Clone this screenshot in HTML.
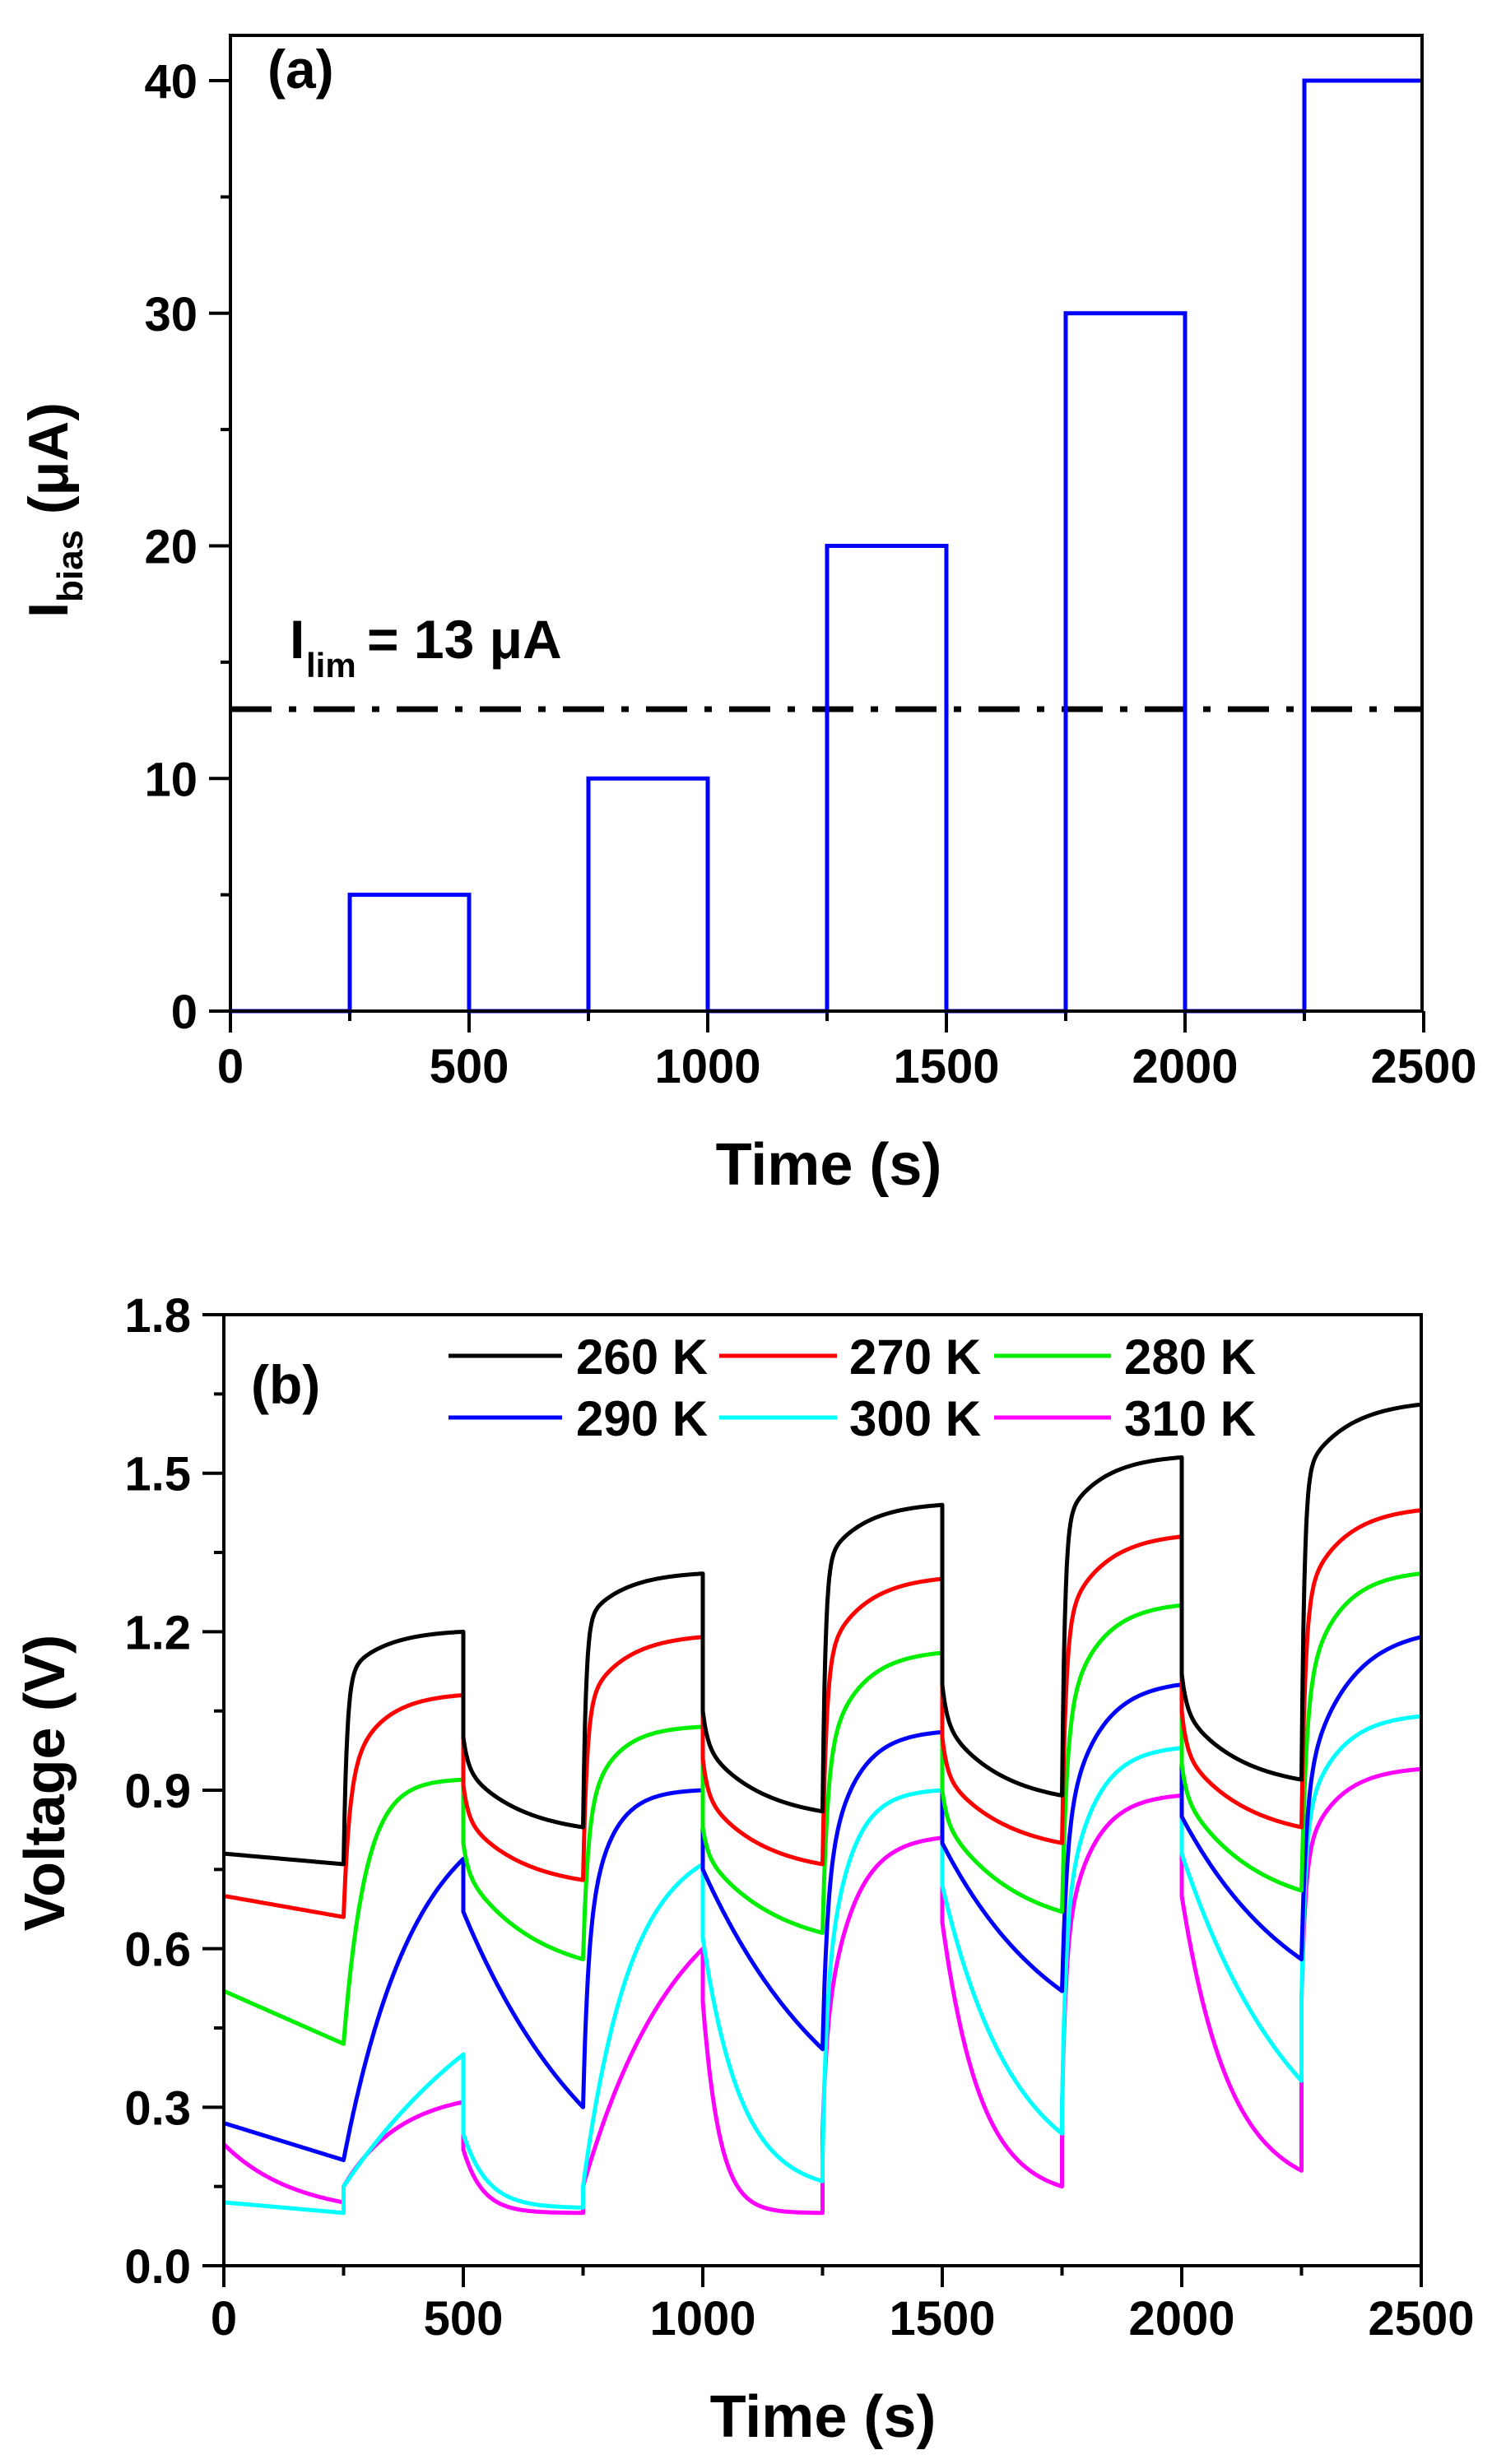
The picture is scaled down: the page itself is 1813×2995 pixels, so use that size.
<!DOCTYPE html>
<html><head><meta charset="utf-8"><style>
html,body{margin:0;padding:0;background:#fff}
svg{display:block}
text{font-family:"Liberation Sans",Arial,sans-serif;font-weight:bold;fill:#000}
</style></head><body>
<svg id="s" width="1813" height="2995" viewBox="0 0 1813 2995" xmlns="http://www.w3.org/2000/svg">
<rect width="1813" height="2995" fill="#fff"/>
<g id="pa"></g>
<line x1="280" y1="862" x2="1728" y2="862" stroke="#000" stroke-width="7" stroke-dasharray="50 21 9 21"/>
<polyline fill="none" stroke="#0000ff" stroke-width="5" points="280,1229 425,1229 425,1087.6 570,1087.6 570,1229 715,1229 715,946.3 860,946.3 860,1229 1005,1229 1005,663.5 1150,663.5 1150,1229 1295,1229 1295,380.8 1440,380.8 1440,1229 1585,1229 1585,98 1728,98"/>
<rect x="280" y="43" width="1448" height="1186" fill="none" stroke="#000" stroke-width="4"/>
<text x="325" y="107" font-size="66">(a)</text>
<text x="352" y="800" font-size="66">I</text><text x="372" y="823" font-size="42">lim</text>
<text x="446" y="800" font-size="66">= 13 μA</text>
<text transform="translate(82,620) rotate(-90)" text-anchor="middle" font-size="68">I<tspan font-size="44" dy="18">bias</tspan><tspan dy="-18"> (μA)</tspan></text>
<text x="1007" y="1440" text-anchor="middle" font-size="72">Time (s)</text>
<g id="pb"></g>
<g id="curves"></g>
<rect x="272" y="1598" width="1455" height="1156" fill="none" stroke="#000" stroke-width="4"/>
<text x="305" y="1706" font-size="66">(b)</text>
<g font-size="60">
<line x1="545" y1="1648" x2="683" y2="1648" stroke="#000" stroke-width="5"/><text x="700" y="1670">260 K</text>
<line x1="874" y1="1648" x2="1017" y2="1648" stroke="#ff0000" stroke-width="5"/><text x="1032" y="1670">270 K</text>
<line x1="1208" y1="1648" x2="1350" y2="1648" stroke="#00ee00" stroke-width="5"/><text x="1366" y="1670">280 K</text>
<line x1="545" y1="1723" x2="683" y2="1723" stroke="#0000ff" stroke-width="5"/><text x="700" y="1745">290 K</text>
<line x1="874" y1="1723" x2="1017" y2="1723" stroke="#00ffff" stroke-width="5"/><text x="1032" y="1745">300 K</text>
<line x1="1208" y1="1723" x2="1350" y2="1723" stroke="#ff00ff" stroke-width="5"/><text x="1366" y="1745">310 K</text>
</g>
<text transform="translate(78,2167) rotate(-90)" text-anchor="middle" font-size="70">Voltage (V)</text>
<text x="1000" y="2962" text-anchor="middle" font-size="72">Time (s)</text>
</svg>
<script>
var NS="http://www.w3.org/2000/svg";
function el(p,n,a,t){var e=document.createElementNS(NS,n);for(var k in a)e.setAttribute(k,a[k]);if(t!==undefined)e.textContent=t;document.getElementById(p).appendChild(e);}
(function(){
 var X=function(t){return 280+t*0.58},Y=function(v){return 1229-v*28.275};
 for(var t=0;t<=2500;t+=250){var maj=t%500==0;el("pa","line",{x1:X(t),y1:1229,x2:X(t),y2:1229+(maj?26:12),stroke:"#000","stroke-width":4});
  if(maj)el("pa","text",{x:X(t),y:1316,"text-anchor":"middle","font-size":58},""+t);}
 for(var v=0;v<=40;v+=5){var maj=v%10==0;el("pa","line",{x1:280-(maj?26:12),y1:Y(v),x2:280,y2:Y(v),stroke:"#000","stroke-width":4});
  if(maj)el("pa","text",{x:240,y:Y(v)+21,"text-anchor":"end","font-size":58},""+v);}
})();
var BX=function(t){return 272+t*0.582},BY=function(v){return 2754-v*642.2};
(function(){
 for(var t=0;t<=2500;t+=250){var maj=t%500==0;el("pb","line",{x1:BX(t),y1:2754,x2:BX(t),y2:2754+(maj?26:12),stroke:"#000","stroke-width":4});
  if(maj)el("pb","text",{x:BX(t),y:2838,"text-anchor":"middle","font-size":58},""+t);}
 for(var i=0;i<=12;i++){var v=i*0.15,maj=i%2==0;el("pb","line",{x1:272-(maj?26:12),y1:BY(v),x2:272,y2:BY(v),stroke:"#000","stroke-width":4});
  if(maj)el("pb","text",{x:232,y:BY(v)+21,"text-anchor":"end","font-size":58},v.toFixed(1));}
})();
var L=1e5;
var D={
"#000000":[[0.78,0.76,0,1,L],[0.76,1.20,0.8,7,80],[1.00,0.83,0.3,10,120],[0.83,1.31,0.8,6,80],[1.05,0.86,0.3,10,120],[0.86,1.44,0.8,6,80],[1.10,0.89,0.3,10,120],[0.89,1.53,0.8,6,80],[1.12,0.92,0.3,10,120],[0.92,1.63,0.8,6,90]],
"#ff0000":[[0.70,0.66,0,1,L],[0.66,1.08,0.6,12,70],[0.91,0.73,0.3,10,120],[0.73,1.19,0.7,8,80],[0.96,0.76,0.3,10,120],[0.76,1.30,0.7,8,80],[1.00,0.80,0.3,10,130],[0.80,1.38,0.7,8,80],[1.05,0.83,0.3,10,130],[0.83,1.43,0.7,8,80]],
"#00ee00":[[0.52,0.42,0,1,L],[0.42,0.92,0,1,45],[0.80,0.58,0.2,10,150],[0.58,1.02,0.6,10,60],[0.83,0.63,0.2,10,150],[0.63,1.16,0.6,10,70],[0.90,0.67,0.2,10,150],[0.67,1.25,0.6,10,70],[0.95,0.71,0.2,10,150],[0.71,1.31,0.6,10,70]],
"#0000ff":[[0.27,0.20,0,1,L],[0.20,0.77,0,1,150],[0.67,0.30,0,1,300],[0.30,0.90,0.5,10,50],[0.75,0.41,0,1,300],[0.41,1.01,0.5,10,60],[0.80,0.52,0,1,250],[0.52,1.10,0.5,10,70],[0.85,0.58,0,1,250],[0.58,1.19,0.5,10,90]],
"#00ffff":[[0.12,0.10,0,1,L],[0.15,0.40,0,1,400],[0.25,0.11,0,1,50],[0.15,0.76,0,1,100],[0.62,0.16,0,1,80],[0.20,0.90,0.4,8,50],[0.72,0.25,0,1,150],[0.30,0.98,0.5,8,60],[0.78,0.35,0,1,250],[0.50,1.04,0.6,8,70]],
"#ff00ff":[[0.23,0.12,0,1,150],[0.15,0.31,0,1,120],[0.22,0.10,0,1,40],[0.15,0.60,0,1,200],[0.50,0.10,0,1,35],[0.25,0.81,0.3,8,60],[0.65,0.15,0,1,80],[0.30,0.89,0.5,8,60],[0.70,0.18,0,1,100],[0.50,0.94,0.6,8,70]]};
var order=["#ff00ff","#00ffff","#0000ff","#00ee00","#ff0000","#000000"];
order.forEach(function(c){
 var pts=[];
 D[c].forEach(function(sg,k){
  var s=sg[0],e=sg[1],a=sg[2],t1=sg[3],t2=sg[4];
  var h=function(t){return a*(1-Math.exp(-t/t1))+(1-a)*(1-Math.exp(-t/t2));};
  var H=h(250);
  for(var t=0;t<=250;t+=2){var v=s+(e-s)*h(t)/H;pts.push(BX(k*250+t).toFixed(1)+","+BY(v).toFixed(1));}
 });
 el("curves","polyline",{points:pts.join(" "),fill:"none",stroke:c,"stroke-width":5,"stroke-linejoin":"round"});
});
</script>
</body></html>
